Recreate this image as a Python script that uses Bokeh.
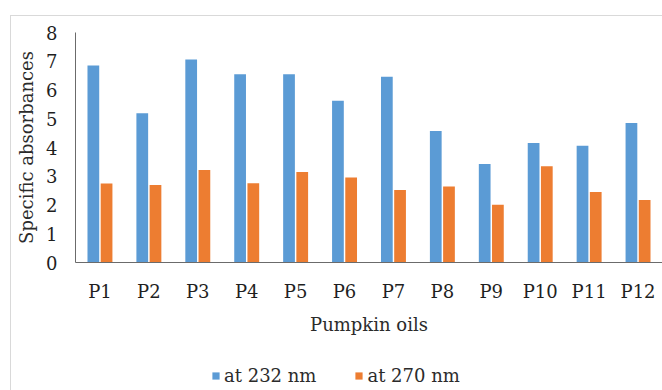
from bokeh.plotting import figure
from bokeh.models import ColumnDataSource, Legend, LegendItem
from bokeh.layouts import column
from bokeh.transform import dodge
from bokeh.embed import file_html
from bokeh.resources import INLINE

categories = ["P1", "P2", "P3", "P4", "P5", "P6", "P7", "P8", "P9", "P10", "P11", "P12"]
at_232 = [6.85, 5.19, 7.06, 6.55, 6.55, 5.63, 6.46, 4.57, 3.43, 4.16, 4.06, 4.85]
at_270 = [2.75, 2.70, 3.22, 2.76, 3.15, 2.96, 2.52, 2.64, 2.01, 3.35, 2.45, 2.17]
y_ticks = [0, 1, 2, 3, 4, 5, 6, 7, 8]
series_names = ["at 232 nm", "at 270 nm"]

BLUE = "#5B9BD5"
ORANGE = "#ED7D31"
FONT = "DejaVu Serif"

src = ColumnDataSource(dict(cat=categories, a=at_232, b=at_270))

p = figure(
    x_range=categories, y_range=(0, 8),
    width=651, height=330,
    output_backend="svg", toolbar_location=None,
    min_border_left=64, min_border_right=0, min_border_top=16, min_border_bottom=84,
)
p.x_range.range_padding = 0
p.outline_line_color = None
p.grid.visible = False
p.background_fill_color = "white"
p.border_fill_color = "white"

r1 = p.vbar(x=dodge("cat", -0.135, range=p.x_range), top="a", width=0.24, source=src,
            fill_color=BLUE, line_color=None)
r2 = p.vbar(x=dodge("cat", 0.135, range=p.x_range), top="b", width=0.24, source=src,
            fill_color=ORANGE, line_color=None)

p.yaxis.ticker = y_ticks
for ax in (p.xaxis, p.yaxis):
    ax.major_tick_line_color = None
    ax.minor_tick_line_color = None
    ax.major_tick_out = 0
    ax.major_tick_in = 0
    ax.axis_line_color = "#6b6b6b"
    ax.major_label_text_font = FONT
    ax.major_label_text_font_size = "18px"
    ax.major_label_text_color = "#1f1f1f"
    ax.axis_label_text_font = FONT
    ax.axis_label_text_font_size = "18px"
    ax.axis_label_text_font_style = "normal"
    ax.axis_label_text_color = "#2b2b2b"
    ax.major_label_standoff = 18

p.xaxis.axis_label = "Pumpkin oils"
p.yaxis.axis_label = "Specific absorbances"
p.xaxis.axis_label_standoff = 9
p.yaxis.axis_label_standoff = 6

# legend strip below the chart
lf = figure(width=651, height=44, x_range=(0, 1), y_range=(0, 1),
            x_axis_type=None, y_axis_type=None,
            output_backend="svg", toolbar_location=None,
            min_border=0)
lf.outline_line_color = None
lf.grid.visible = False
lf.background_fill_color = "white"
lf.border_fill_color = "white"
# swatch renderers: their single bar lies outside the visible range
swatch = ColumnDataSource(dict(x=[10], top=[10]))
l1 = lf.vbar(x="x", top="top", width=0.1, source=swatch, fill_color=BLUE, line_color=None)
l2 = lf.vbar(x="x", top="top", width=0.1, source=swatch, fill_color=ORANGE, line_color=None)

legend = Legend(
    items=[LegendItem(label=series_names[0], renderers=[l1]),
           LegendItem(label=series_names[1], renderers=[l2])],
    orientation="horizontal",
    location=(136, 4),
    label_text_font=FONT, label_text_font_size="18px", label_text_color="#2b2b2b",
    glyph_width=9, glyph_height=9, label_standoff=4, spacing=38,
    padding=0, margin=0, border_line_color=None, background_fill_alpha=0,
)
lf.add_layout(legend, "center")

layout = column(p, lf, spacing=0)
layout.styles = {"margin-left": "10px", "margin-top": "15px",
                 "border-top": "1px solid #d9d9d9", "border-left": "1px solid #d9d9d9"}

open("out.html", "w").write(file_html(layout, INLINE))
